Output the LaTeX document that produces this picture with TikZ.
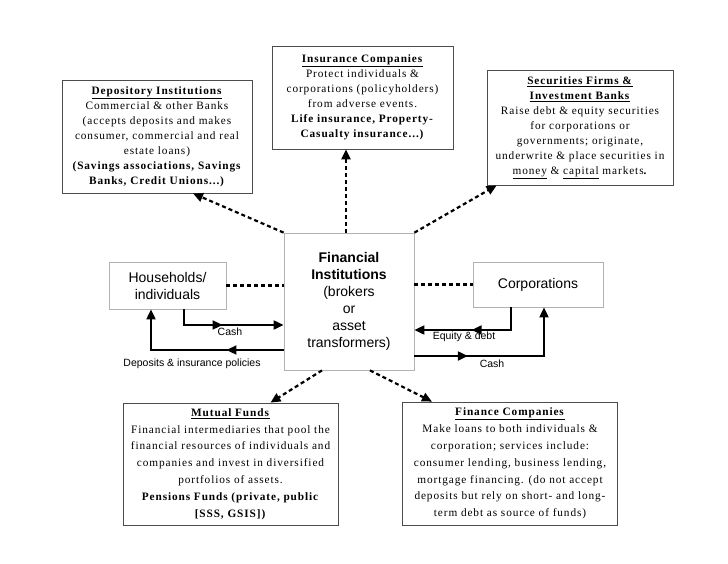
\documentclass[tikz,border=0pt]{standalone}
\usepackage{fontspec}
\setmainfont{Liberation Serif}[LetterSpace=8]
\setsansfont{Liberation Sans}
\usetikzlibrary{arrows.meta,decorations.markings}

\begin{document}
\begin{tikzpicture}[x=1pt,y=-1pt,
  txt/.style={draw=black!70,line width=0.8pt,align=center,inner sep=0pt,font=\fontsize{11.3}{15}\selectfont},
  txtlow/.style={txt,font=\fontsize{11.3}{16.8}\selectfont},
  blk/.style={draw=black!30,line width=0.8pt,align=center,inner sep=0pt,font=\sffamily\fontsize{14}{17}\selectfont},
  link/.style={line width=2.2pt,dash pattern=on 4pt off 3pt,-{Triangle[length=10pt,width=9pt]}},
  flow/.style={line width=2pt,-{Triangle[length=10pt,width=9pt]}},
  midtip/.style={decoration={markings,mark=at position #1 with {\arrow{Triangle[length=10pt,width=9pt]}}},postaction={decorate}},
  lbl/.style={font=\sffamily\fontsize{10.5}{12}\selectfont,inner sep=0pt}]
\useasboundingbox (0,0) rectangle (728,563);

% the institutions round the middle
\node[txt,minimum width=190pt,minimum height=113pt] (dep) at (157,136.5)
  {\underline{\textbf{Depository Institutions}}\\ Commercial \& other Banks\\ (accepts deposits and makes\\ consumer, commercial and real\\ estate loans)\\ \textbf{(Savings associations, Savings}\\ \textbf{Banks, Credit Unions...)}};
\node[txt,minimum width=181pt,minimum height=103pt] (ins) at (362.5,97.5)
  {\underline{\textbf{Insurance Companies}}\\ Protect individuals \&\\ corporations (policyholders)\\ from adverse events.\\ \textbf{Life insurance, Property-}\\ \textbf{Casualty insurance...)}};
\node[txt,minimum width=186pt,minimum height=115pt] (sec) at (580,127.5)
  {\underline{\textbf{Securities Firms \&}}\\ \underline{\textbf{Investment Banks}}\\ Raise debt \& equity securities\\ for corporations or\\ governments; originate,\\ underwrite \& place securities in\\ \underline{money} \& \underline{capital} markets\textbf{.}};
\node[txtlow,minimum width=215pt,minimum height=122pt] (mf) at (230.5,464)
  {\underline{\textbf{Mutual Funds}}\\ Financial intermediaries that pool the\\ financial resources of individuals and\\ companies and invest in diversified\\ portfolios of assets.\\ \textbf{Pensions Funds (private, public}\\ \textbf{[SSS, GSIS])}};
\node[txtlow,minimum width=215pt,minimum height=123pt] (fc) at (510,463.5)
  {\underline{\textbf{Finance Companies}}\\ Make loans to both individuals \&\\ corporation; services include:\\ consumer lending, business lending,\\ mortgage financing. (do not accept\\ deposits but rely on short- and long-\\ term debt as source of funds)};

% the middle row
\node[blk,minimum width=130pt,minimum height=137pt] (fi) at (349,301.5)
  {\textbf{Financial}\\ \textbf{Institutions}\\ (brokers\\ or\\ asset\\ transformers)};
\node[blk,minimum width=117pt,minimum height=47pt] (hh) at (167.5,285.5) {Households/\\ individuals};
\node[blk,minimum width=130pt,minimum height=45pt] (co) at (538,284.5) {Corporations};

\draw[link] ([xshift=-3pt]fi.north) -- ([xshift=-16.5pt]ins.south);
\draw[link] (fi.north west) -- ([xshift=36pt]dep.south);
\draw[link] (fi.north east) -- ([xshift=10pt]sec.south west);
\draw[link] ([xshift=-27pt]fi.south) -- ([xshift=40pt]mf.north);
\draw[link] ([xshift=21pt]fi.south) -- ([xshift=-78pt]fc.north);
\draw[link,-] (hh.east) -- (fi.west |- hh.east);
\draw[link,-] (fi.east |- co.west) -- (co.west);

% money and claims
\draw[flow,midtip=0.47] ([xshift=16.5pt]hh.south) |- (fi.west |- 0,325);
\draw[flow,midtip=0.33] (fi.west |- 0,350) -| ([xshift=-16.5pt]hh.south);
\draw[flow,midtip=0.52] ([xshift=-27pt]co.south) |- (fi.east |- 0,330);
\draw[flow,midtip=0.30] (fi.east |- 0,356) -| ([xshift=6pt]co.south);
\node[lbl] (cashl) at (230,332) {Cash};
\node[lbl] (depl) at (192,364) {Deposits \& insurance policies};
\node[lbl] (eqd) at (464,337) {Equity \& debt};
\node[lbl] (cashr) at (492,364) {Cash};
\end{tikzpicture}
\end{document}
